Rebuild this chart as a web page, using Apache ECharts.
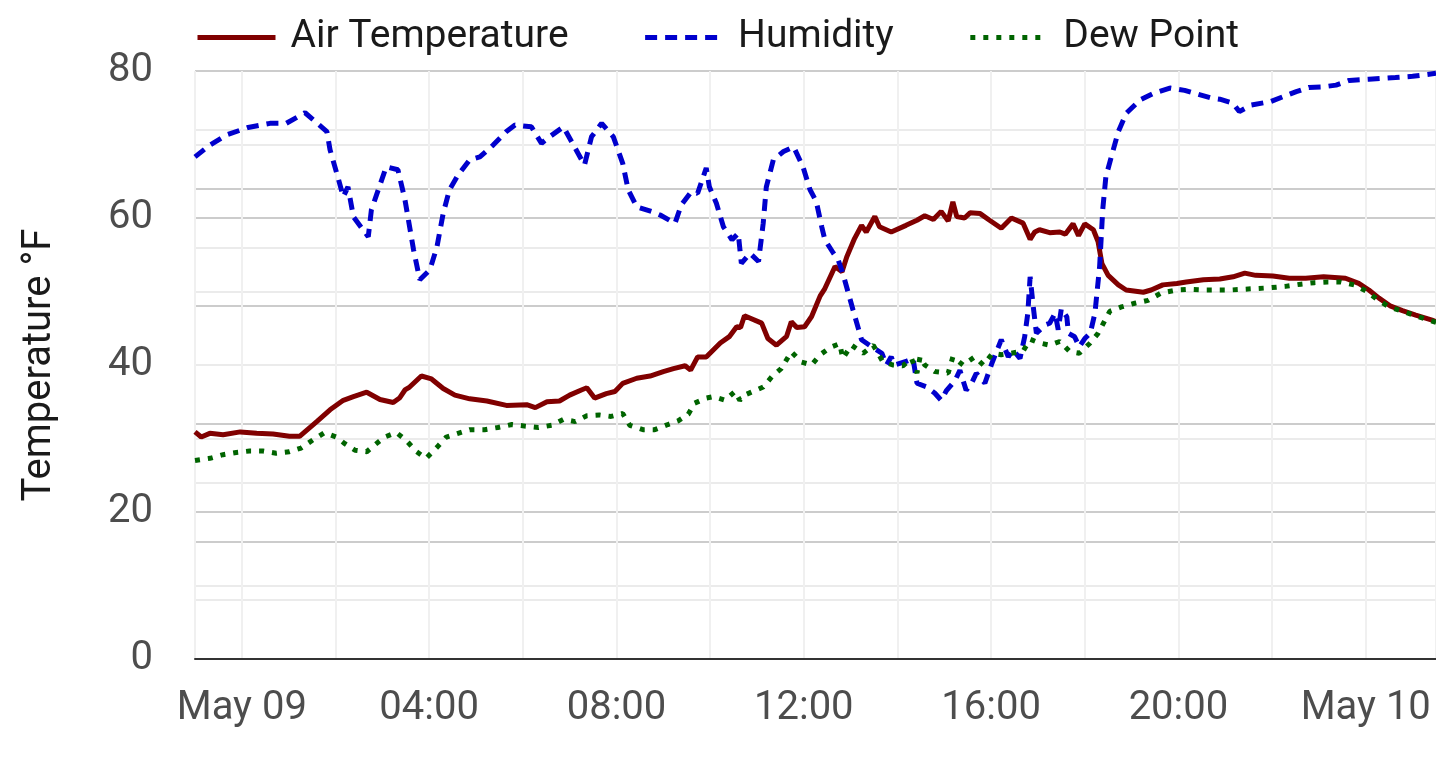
<!DOCTYPE html>
<html>
<head>
<meta charset="utf-8">
<script src="https://cdn.jsdelivr.net/npm/echarts@6/dist/echarts.min.js"></script>
<style>
  html, body { margin: 0; padding: 0; background: #fff; }
  #chart { width: 1436px; height: 758px; }
</style>
</head>
<body>
<div id="chart"></div>
<script>
// readings: [time (MM-DD HH:mm), value]
var airTemperature = [
  ['05-08 23:00', 30.9], ['05-08 23:08', 30.2], ['05-08 23:19', 30.7], ['05-08 23:36', 30.5],
  ['05-08 23:58', 30.9], ['05-09 00:19', 30.7], ['05-09 00:40', 30.6], ['05-09 01:01', 30.3],
  ['05-09 01:14', 30.3], ['05-09 01:36', 32.3], ['05-09 01:53', 33.9], ['05-09 02:10', 35.2],
  ['05-09 02:23', 35.7], ['05-09 02:40', 36.3], ['05-09 02:57', 35.3], ['05-09 03:14', 34.9],
  ['05-09 03:22', 35.5], ['05-09 03:29', 36.6], ['05-09 03:35', 37.0], ['05-09 03:50', 38.5],
  ['05-09 04:03', 38.1], ['05-09 04:18', 36.8], ['05-09 04:33', 35.9], ['05-09 04:52', 35.4],
  ['05-09 05:14', 35.1], ['05-09 05:39', 34.5], ['05-09 06:05', 34.6], ['05-09 06:16', 34.2],
  ['05-09 06:31', 35.0], ['05-09 06:47', 35.1], ['05-09 07:00', 35.9], ['05-09 07:15', 36.6],
  ['05-09 07:22', 36.9], ['05-09 07:32', 35.5], ['05-09 07:47', 36.1], ['05-09 07:58', 36.4],
  ['05-09 08:08', 37.5], ['05-09 08:26', 38.2], ['05-09 08:43', 38.5], ['05-09 09:00', 39.1],
  ['05-09 09:13', 39.5], ['05-09 09:28', 39.9], ['05-09 09:35', 39.3], ['05-09 09:44', 41.1],
  ['05-09 09:55', 41.1], ['05-09 10:13', 43.0], ['05-09 10:25', 43.9], ['05-09 10:34', 45.2],
  ['05-09 10:39', 45.1], ['05-09 10:44', 46.7], ['05-09 11:06', 45.7], ['05-09 11:14', 43.6],
  ['05-09 11:25', 42.7], ['05-09 11:38', 43.9], ['05-09 11:44', 45.9], ['05-09 11:51', 45.1],
  ['05-09 12:01', 45.2], ['05-09 12:10', 46.6], ['05-09 12:21', 49.4], ['05-09 12:27', 50.4],
  ['05-09 12:40', 53.4], ['05-09 12:49', 52.7], ['05-09 12:55', 54.7], ['05-09 13:05', 57.2],
  ['05-09 13:14', 59.0], ['05-09 13:20', 58.1], ['05-09 13:31', 60.2], ['05-09 13:37', 58.8],
  ['05-09 13:52', 58.1], ['05-09 14:11', 59.0], ['05-09 14:25', 59.7], ['05-09 14:35', 60.3],
  ['05-09 14:46', 59.8], ['05-09 14:56', 60.9], ['05-09 15:05', 59.6], ['05-09 15:11', 62.2],
  ['05-09 15:16', 60.2], ['05-09 15:26', 60.0], ['05-09 15:33', 60.7], ['05-09 15:46', 60.6],
  ['05-09 15:58', 59.7], ['05-09 16:13', 58.6], ['05-09 16:26', 60.0], ['05-09 16:41', 59.3],
  ['05-09 16:50', 57.1], ['05-09 16:56', 58.1], ['05-09 17:02', 58.4], ['05-09 17:15', 58.0],
  ['05-09 17:28', 58.1], ['05-09 17:35', 57.8], ['05-09 17:45', 59.2], ['05-09 17:52', 57.6],
  ['05-09 18:00', 59.2], ['05-09 18:11', 58.4], ['05-09 18:17', 56.8], ['05-09 18:22', 53.8],
  ['05-09 18:30', 52.2], ['05-09 18:43', 50.9], ['05-09 18:53', 50.2], ['05-09 19:15', 49.9],
  ['05-09 19:25', 50.2], ['05-09 19:40', 50.9], ['05-09 19:58', 51.1], ['05-09 20:10', 51.3],
  ['05-09 20:32', 51.6], ['05-09 20:53', 51.7], ['05-09 21:10', 52.0], ['05-09 21:25', 52.5],
  ['05-09 21:39', 52.2], ['05-09 22:01', 52.1], ['05-09 22:22', 51.8], ['05-09 22:43', 51.8],
  ['05-09 23:06', 52.0], ['05-09 23:34', 51.8], ['05-09 23:51', 51.1], ['05-10 00:04', 50.2],
  ['05-10 00:17', 49.1], ['05-10 00:32', 48.0], ['05-10 00:47', 47.4], ['05-10 01:04', 46.8],
  ['05-10 01:25', 46.1], ['05-10 01:30', 45.9]
];

var humidity = [
  ['05-08 23:00', 85.4], ['05-08 23:19', 87.4], ['05-08 23:40', 89.1], ['05-09 00:08', 90.4],
  ['05-09 00:36', 91.1], ['05-09 00:57', 91.1], ['05-09 01:21', 92.9], ['05-09 01:49', 89.7],
  ['05-09 01:53', 86.6], ['05-09 02:04', 81.5], ['05-09 02:10', 78.6], ['05-09 02:16', 80.3],
  ['05-09 02:23', 75.2], ['05-09 02:42', 71.8], ['05-09 02:46', 76.4], ['05-09 03:05', 83.7],
  ['05-09 03:20', 83.2], ['05-09 03:29', 78.1], ['05-09 03:40', 69.6], ['05-09 03:48', 64.5],
  ['05-09 04:01', 66.2], ['05-09 04:10', 70.1], ['05-09 04:18', 75.8], ['05-09 04:26', 79.8],
  ['05-09 04:37', 82.3], ['05-09 04:52', 84.9], ['05-09 05:05', 85.4], ['05-09 05:22', 87.4],
  ['05-09 05:39', 89.7], ['05-09 05:50', 90.8], ['05-09 06:11', 90.5], ['05-09 06:24', 87.7],
  ['05-09 06:32', 88.6], ['05-09 06:52', 90.5], ['05-09 07:05', 87.4], ['05-09 07:19', 84.0],
  ['05-09 07:28', 88.8], ['05-09 07:41', 91.1], ['05-09 07:56', 88.8], ['05-09 08:08', 84.3],
  ['05-09 08:15', 79.8], ['05-09 08:26', 76.9], ['05-09 08:45', 76.1], ['05-09 08:56', 75.5],
  ['05-09 09:15', 74.1], ['05-09 09:23', 77.2], ['05-09 09:36', 79.5], ['05-09 09:44', 79.2],
  ['05-09 09:55', 83.5], ['05-09 09:59', 80.3], ['05-09 10:08', 77.5], ['05-09 10:17', 73.5],
  ['05-09 10:28', 71.3], ['05-09 10:36', 72.4], ['05-09 10:40', 67.3], ['05-09 10:51', 69.0],
  ['05-09 11:02', 67.6], ['05-09 11:08', 74.1], ['05-09 11:12', 80.3], ['05-09 11:21', 84.9],
  ['05-09 11:34', 86.3], ['05-09 11:47', 87.1], ['05-09 11:59', 83.7], ['05-09 12:08', 79.8],
  ['05-09 12:16', 77.8], ['05-09 12:23', 73.5], ['05-09 12:27', 71.3], ['05-09 12:38', 69.0],
  ['05-09 12:44', 67.9], ['05-09 12:50', 65.6], ['05-09 13:03', 59.4], ['05-09 13:14', 54.3],
  ['05-09 13:27', 53.1], ['05-09 13:40', 52.0], ['05-09 13:46', 50.0], ['05-09 13:52', 51.4],
  ['05-09 13:56', 50.0], ['05-09 14:11', 50.6], ['05-09 14:20', 51.1], ['05-09 14:25', 46.9],
  ['05-09 14:37', 46.3], ['05-09 14:48', 45.2], ['05-09 14:56', 44.0], ['05-09 15:03', 45.7],
  ['05-09 15:14', 47.4], ['05-09 15:20', 49.1], ['05-09 15:28', 45.7], ['05-09 15:35', 46.9],
  ['05-09 15:41', 48.6], ['05-09 15:52', 46.9], ['05-09 16:01', 50.3], ['05-09 16:13', 54.3],
  ['05-09 16:22', 51.4], ['05-09 16:28', 52.6], ['05-09 16:37', 51.1], ['05-09 16:43', 54.8],
  ['05-09 16:47', 58.8], ['05-09 16:50', 65.0], ['05-09 16:54', 59.9], ['05-09 16:58', 55.4],
  ['05-09 17:09', 56.8], ['05-09 17:15', 57.1], ['05-09 17:22', 58.8], ['05-09 17:26', 56.0],
  ['05-09 17:30', 59.6], ['05-09 17:37', 58.2], ['05-09 17:39', 55.4], ['05-09 17:47', 54.8],
  ['05-09 17:53', 53.1], ['05-09 18:00', 54.5], ['05-09 18:07', 55.4], ['05-09 18:13', 58.8],
  ['05-09 18:19', 66.7], ['05-09 18:23', 76.4], ['05-09 18:27', 82.0], ['05-09 18:34', 85.4],
  ['05-09 18:43', 89.7], ['05-09 18:53', 92.8], ['05-09 19:11', 95.1], ['05-09 19:28', 96.2],
  ['05-09 19:49', 97.1], ['05-09 20:08', 96.7], ['05-09 20:21', 96.2], ['05-09 20:42', 95.4],
  ['05-09 20:53', 95.2], ['05-09 21:10', 94.5], ['05-09 21:18', 93.1], ['05-09 21:33', 94.2],
  ['05-09 21:58', 94.8], ['05-09 22:31', 96.5], ['05-09 22:47', 97.2], ['05-09 23:05', 97.3],
  ['05-09 23:22', 97.6], ['05-09 23:39', 98.4], ['05-10 00:04', 98.6], ['05-10 00:38', 98.9],
  ['05-10 01:00', 99.1], ['05-10 01:30', 99.6]
];

var dewPoint = [
  ['05-08 23:00', 27.0], ['05-08 23:19', 27.3], ['05-08 23:36', 27.8], ['05-08 23:53', 28.1],
  ['05-09 00:10', 28.3], ['05-09 00:27', 28.3], ['05-09 00:44', 28.0], ['05-09 01:01', 28.2],
  ['05-09 01:16', 28.7], ['05-09 01:31', 29.8], ['05-09 01:46', 30.8], ['05-09 02:01', 30.2],
  ['05-09 02:12', 29.3], ['05-09 02:25', 28.4], ['05-09 02:40', 28.2], ['05-09 02:50', 29.1],
  ['05-09 03:03', 30.2], ['05-09 03:18', 30.8], ['05-09 03:30', 29.8], ['05-09 03:44', 28.2],
  ['05-09 03:56', 27.3], ['05-09 04:10', 28.8], ['05-09 04:22', 30.2], ['05-09 04:37', 30.7],
  ['05-09 04:52', 31.2], ['05-09 05:11', 31.2], ['05-09 05:28', 31.5], ['05-09 05:46', 31.9],
  ['05-09 06:02', 31.7], ['05-09 06:20', 31.5], ['05-09 06:37', 31.8], ['05-09 06:52', 32.6],
  ['05-09 07:07', 32.3], ['05-09 07:22', 33.1], ['05-09 07:38', 33.2], ['05-09 07:53', 33.0],
  ['05-09 08:08', 33.4], ['05-09 08:17', 31.8], ['05-09 08:34', 31.2], ['05-09 08:49', 31.2],
  ['05-09 09:06', 31.9], ['05-09 09:19', 32.4], ['05-09 09:32', 33.3], ['05-09 09:40', 34.8],
  ['05-09 09:55', 35.5], ['05-09 10:04', 35.7], ['05-09 10:19', 35.2], ['05-09 10:32', 36.4],
  ['05-09 10:38', 35.2], ['05-09 10:44', 35.9], ['05-09 10:55', 36.4], ['05-09 11:08', 37.0],
  ['05-09 11:19', 38.4], ['05-09 11:31', 39.5], ['05-09 11:44', 41.8], ['05-09 11:57', 40.4],
  ['05-09 12:10', 40.0], ['05-09 12:21', 41.4], ['05-09 12:34', 42.4], ['05-09 12:46', 42.9],
  ['05-09 12:50', 40.9], ['05-09 13:01', 42.7], ['05-09 13:16', 41.6], ['05-09 13:29', 42.7],
  ['05-09 13:41', 40.5], ['05-09 13:54', 40.0], ['05-09 14:07', 39.9], ['05-09 14:18', 40.9],
  ['05-09 14:25', 38.9], ['05-09 14:29', 41.1], ['05-09 14:35', 40.0], ['05-09 14:48', 39.1],
  ['05-09 15:05', 38.9], ['05-09 15:11', 41.1], ['05-09 15:24', 40.0], ['05-09 15:39', 41.1],
  ['05-09 15:50', 40.0], ['05-09 16:02', 41.6], ['05-09 16:13', 41.4], ['05-09 16:26', 41.6],
  ['05-09 16:41', 41.9], ['05-09 16:50', 43.5], ['05-09 17:02', 43.0], ['05-09 17:15', 42.7],
  ['05-09 17:28', 43.2], ['05-09 17:41', 41.8], ['05-09 17:53', 41.6], ['05-09 18:07', 43.0],
  ['05-09 18:17', 44.3], ['05-09 18:32', 47.3], ['05-09 18:47', 47.9], ['05-09 19:04', 48.4],
  ['05-09 19:21', 48.8], ['05-09 19:38', 49.8], ['05-09 19:58', 50.2], ['05-09 20:13', 50.3],
  ['05-09 20:32', 50.2], ['05-09 20:49', 50.2], ['05-09 21:06', 50.2], ['05-09 21:23', 50.3],
  ['05-09 21:56', 50.5], ['05-09 22:17', 50.7], ['05-09 22:37', 51.0], ['05-09 22:54', 51.2],
  ['05-09 23:11', 51.3], ['05-09 23:28', 51.3], ['05-09 23:45', 50.9], ['05-10 00:00', 50.1],
  ['05-10 00:15', 48.9], ['05-10 00:30', 47.9], ['05-10 00:47', 47.3], ['05-10 01:04', 46.7],
  ['05-10 01:21', 46.1], ['05-10 01:30', 45.8]
];

var seriesNames = ['Air Temperature', 'Humidity', 'Dew Point'];
var monthNames = ['Jan', 'Feb', 'Mar', 'Apr', 'May', 'Jun', 'Jul', 'Aug', 'Sep', 'Oct', 'Nov', 'Dec'];
var year = '2024';
var xStart = '05-08 23:00';
var xEnd = '05-10 01:30';

function toPoints(rows) {
  return rows.map(function (r) { return [year + '-' + r[0], r[1]]; });
}
function pad(n) { return n < 10 ? '0' + n : '' + n; }

var HOUR = 3600 * 1000;
var ink = '#1a1a1a';
var muted = '#4d4d4d';
var major = '#cccccc';
var minor = '#ebebeb';
var font = 'Roboto, "Noto Sans", sans-serif';
var fs = 40;

var chart = echarts.init(document.getElementById('chart'), null, { renderer: 'canvas' });
chart.setOption({
  animation: false,
  textStyle: { fontFamily: font },
  legend: {
    left: 190,
    top: 13,
    itemWidth: 78,
    itemHeight: 14,
    itemGap: 74,
    itemStyle: { opacity: 0 },
    lineStyle: { width: 5 },
    textStyle: { color: ink, fontSize: 39, fontFamily: font, padding: [0, 0, 0, 10] },
    data: seriesNames
  },
  grid: { left: 195, right: 0, top: 71, bottom: 99 },
  xAxis: {
    type: 'time',
    min: year + '-' + xStart,
    max: year + '-' + xEnd,
    // 2.5h approx interval -> time scale settles on 2h steps
    minInterval: 2.5 * HOUR,
    maxInterval: 2.5 * HOUR,
    axisLine: { show: true, lineStyle: { color: '#333333', width: 2 } },
    axisTick: { show: false },
    axisLabel: {
      color: muted,
      fontSize: fs,
      fontFamily: font,
      margin: 30,
      showMinLabel: false,
      showMaxLabel: false,
      formatter: function (value) {
        var d = new Date(value);
        var h = d.getHours();
        if (d.getMinutes() !== 0 || h % 4 !== 0) return '';
        if (h === 0) return monthNames[d.getMonth()] + ' ' + pad(d.getDate());
        return pad(h) + ':00';
      }
    },
    splitLine: { show: true, lineStyle: { color: '#f0f0f0', width: 2 } }
  },
  yAxis: [
    {
      type: 'value',
      min: 0,
      max: 80,
      interval: 20,
      name: 'Temperature °F',
      nameLocation: 'middle',
      nameGap: 135,
      nameTextStyle: { color: ink, fontSize: fs, fontFamily: font },
      axisLine: { show: false },
      axisTick: { show: false },
      axisLabel: { color: muted, fontSize: fs, fontFamily: font, margin: 42 },
      splitLine: { lineStyle: { color: major, width: 2 } },
      minorTick: { show: false, splitNumber: 2 },
      minorSplitLine: { show: true, lineStyle: { color: minor, width: 2 } }
    },
    {
      type: 'value',
      min: 0,
      max: 100,
      interval: 20,
      position: 'right',
      axisLine: { show: false },
      axisTick: { show: false },
      axisLabel: { show: false },
      splitLine: { lineStyle: { color: major, width: 2 } },
      minorTick: { show: false, splitNumber: 2 },
      minorSplitLine: { show: true, lineStyle: { color: minor, width: 2 } }
    }
  ],
  series: [
    {
      name: seriesNames[0],
      type: 'line',
      yAxisIndex: 0,
      symbol: 'none',
      data: toPoints(airTemperature),
      lineStyle: { color: '#800000', width: 5 },
      itemStyle: { color: '#800000' }
    },
    {
      name: seriesNames[1],
      type: 'line',
      yAxisIndex: 1,
      symbol: 'none',
      data: toPoints(humidity),
      lineStyle: { color: '#0000cd', width: 5, type: [12, 8] },
      itemStyle: { color: '#0000cd' }
    },
    {
      name: seriesNames[2],
      type: 'line',
      yAxisIndex: 0,
      symbol: 'none',
      data: toPoints(dewPoint),
      lineStyle: { color: '#006400', width: 5, type: [5, 8] },
      itemStyle: { color: '#006400' }
    }
  ]
});
window.addEventListener('resize', function () { chart.resize(); });
</script>
</body>
</html>
